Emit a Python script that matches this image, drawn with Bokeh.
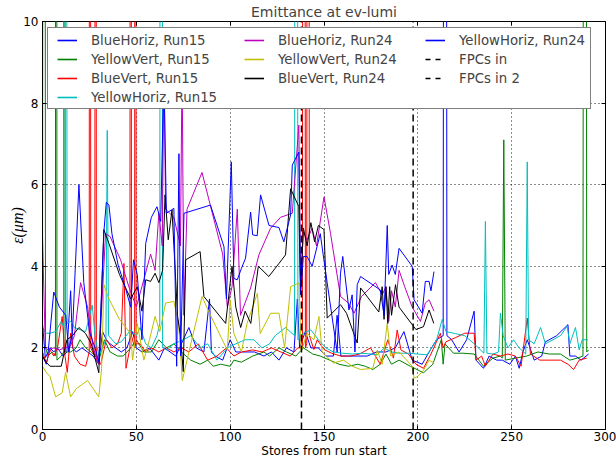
from bokeh.plotting import figure
from bokeh.models import Range1d, FixedTicker, LinearAxis, Legend, LegendItem
from bokeh.embed import file_html
from bokeh.resources import INLINE

S = 60.0  # off-scale spike value (clipped at top of axis)
NAN = float("nan")

x_ticks = [0, 50, 100, 150, 200, 250, 300]
y_ticks = [0, 2, 4, 6, 8, 10]
fpc_x = [138.0, 197.5]

# BlueHoriz, Run15
b15_x = [0, 2, 4, 6, 8, 11, 13, 15, 16, 18, 21, 24, 27, 30, 32, 34, 36, 39, 42, 45,
         48, 50, 53, 57, 62, 65, 68, 71, 75, 78, 82, 86, 89, 90, 92, 96, 100, 103, 108, 113,
         118, 122, 126, 130, 134, 135.8, 137, 140, 143, 147, 151, 155, 157, 159, 163, 168, 173, 178, 183, 188,
         192.6, 197, 202.3, 206, 210, 213.5, 214.5, 215.5, 218, 222, 226, 230, 231, 235, 238, 242, 245, 249, 252, 254,
         256, 258.3, 262, 266, 268, 274, 280, 281, 284, 287, 291]
b15_y = [1.8, 1.6, 2.0, 1.9, 2.0, 1.8, 1.9, 3.4, 2.0, 1.9, 2.0, 1.9, 1.8, 1.6, 2.4, 2.2, 2.1, 2.0, 1.9, 2.0,
         2.4, 2.0, 1.9, 2.0, 1.7, 2.0, 1.9, 1.8, 2.2, 2.5, 2.0, 1.9, 3.2, 1.9, 1.8, 1.7, 2.2, 1.9, 1.9, 1.9,
         1.8, 1.9, 1.7, 2.0, 1.9, 3.2, 2.0, 2.4, 2.0, 2.0, 1.8, 1.8, 2.8, 1.8, 1.8, 1.8, 1.8, 1.9, 1.9, 2.0,
         2.4, 1.7, 1.6, 1.9, 2.2, 2.3, S, 2.3, 2.2, 1.9, 2.2, 2.9, 1.7, 1.5, 1.8, 1.7, 1.7, 1.6, 1.8, 1.5,
         1.9, 2.2, 1.7, 1.8, 2.15, 2.3, 2.57, 1.8, 1.8, 1.7, 1.85]

# YellowVert, Run15
g15_x = [0, 0.8, 1.6, 3, 5, 6.9, 7.3, 7.7, 10, 11.3, 11.7, 12.1, 15, 18, 20, 23, 26, 30, 33, 36,
         40, 43, 47, 50, 54, 58, 62, 66, 70, 74, 79, 84, 88, 91, 95, 100, 102, 106, 112, 118,
         121, 126, 130, 135, 139, 144, 148, 153, 158, 163, 168, 172, 176, 180, 183, 186, 190, 196, 203, 208,
         212.5, 213.5, 214.5, 219, 224, 230, 235, 240, 244, 245, 245.8, 246.6, 252, 258, 264, 270, 276, 281,
         285, 288, 289, 290, 291]
g15_y = [2.0, S, 2.0, 1.8, 1.9, 1.8, S, 1.7, 1.8, 1.9, S, 1.9, 1.9, 2.0, 2.2, 2.0, 1.9, 1.7, 2.2, 1.9,
         1.8, 1.8, 2.0, 2.2, 1.9, 1.9, 2.2, 2.0, 2.1, 1.9, 1.7, 1.6, 1.7, 1.55, 1.6, 1.55, 1.7, 1.65, 1.8, 1.9,
         1.8, 2.0, 1.9, 1.8, 2.0, 1.85, 1.8, 1.7, 1.6, 1.55, 1.6, 1.55, 1.47, 1.6, 1.85, 1.6, 1.7, 1.55, 1.39, 1.6,
         2.2, 1.6, 2.1, 1.87, 1.87, 1.85, 1.55, 1.75, 1.8, 1.75, 7.1, 1.7, 1.75, 1.8, 1.9, 1.85, 1.85, 1.7,
         1.75, 1.8, S, 1.9, 1.95]

# BlueVert, Run15
r15_x = [0, 2, 4, 6, 8, 10.5, 12, 13.2, 15, 17, 20, 23, 24.9, 25.3, 25.7, 27.9, 28.3, 28.7, 31, 34,
         37, 40, 42, 43.4, 44.5, 46.6, 47, 47.4, 49.1, 49.5, 49.9, 52, 55, 58, 62, 66, 70, 74, 78, 83,
         88, 93, 98, 102, 106, 112, 117, 122, 127, 132, 136, 138.5, 139.3, 140.1, 140.8, 141.5, 142.2, 144.6, 146.4, 150,
         154, 159, 164, 169, 174.8, 180, 184, 187, 189, 191, 195, 199, 203, 207, 212, 213.5, 215, 220, 225, 230,
         231, 234, 236, 240, 244, 248, 252, 255, 258.3, 260, 265, 270, 276, 280, 283, 286, 290]
r15_y = [1.9, 1.63, 1.95, 1.8, 2.0, 2.77, 1.8, 1.4, 2.36, 1.8, 1.6, 1.55, 1.9, S, 2.0, 1.8, S, 1.7, 1.6, 2.2,
         2.0, 2.1, 2.36, 4.07, 1.5, 2.0, S, 2.3, 2.0, S, 2.1, 2.1, 1.9, 2.0, 1.9, 2.0, 1.9, 2.0, 1.9, 2.1,
         1.7, 1.8, 2.0, 1.8, 1.9, 1.95, 1.9, 2.0, 1.9, 1.8, 2.0, 2.0, S, 2.0, 2.1, S, 2.3, 1.96, 2.2, 1.96,
         1.87, 1.8, 1.8, 1.85, 2.0, 1.6, 2.2, 1.75, 2.44, 1.95, 1.85, 1.6, 1.5, 1.85, 2.36, 2.0, 2.15, 2.25, 2.36, 2.36,
         1.7, 1.8, 1.55, 1.85, 1.8, 1.85, 1.8, 1.55, 2.73, 1.85, 1.7, 1.7, 1.7, 1.6, 1.47, 1.7, 1.75]

# YellowHoriz, Run15
c15_x = [0, 1.7, 4, 7, 10, 11.3, 12.2, 13.1, 15, 17, 20.3, 23, 26.5, 28, 30, 33.8, 34.5, 35.2, 39, 42,
         47, 50, 52, 55, 58, 61, 62.5, 63.2, 64, 66, 70, 75, 79, 84, 88, 93, 98.5, 103, 108, 112.6,
         117, 121, 124, 129.5, 134.3, 135.2, 136.1, 139, 143, 147, 151, 155, 160, 165, 170, 175, 178.4, 182, 186, 190,
         195, 200, 205, 210, 213, 215, 220, 225, 230, 235.2, 236, 236.8, 240, 243, 244, 245.5, 248, 251, 254, 257.5,
         258.3, 259, 262, 265.4, 268, 272, 276, 279.6, 281, 284, 286, 287.6, 290.6]
c15_y = [2.5, 2.36, 2.36, 2.4, 2.65, 2.5, S, 2.6, 2.65, 2.5, 2.44, 2.4, 3.05, 2.3, 1.8, 2.2, 7.33, 2.3, 2.1, 2.15,
         2.44, 2.3, 2.5, 2.1, 2.0, 2.3, 2.6, S, 2.0, 1.95, 2.1, 2.2, 2.3, 2.0, 2.1, 1.7, 2.0, 2.1, 2.2, 2.2,
         2.0, 2.1, 2.3, 2.5, 2.3, S, 2.2, 2.36, 2.44, 2.2, 2.0, 1.9, 1.87, 1.85, 1.87, 1.85, 1.83, 2.0, 1.9, 1.87,
         1.87, 1.85, 1.83, 2.2, 2.7, 2.4, 2.35, 2.3, 2.1, 1.87, 5.1, 1.87, 1.85, 1.9, 2.85, 2.3, 2.0, 2.2, 2.0, 1.85,
         6.56, 2.2, 2.1, 2.5, 2.1, 2.2, 2.3, 2.53, 2.1, 2.5, 1.95, 2.2, 2.2]

# BlueHoriz, Run24
m24_x = [0, 1.5, 3, 6, 9, 12, 15, 17, 20.3, 24, 27, 30, 33.6, 36, 41.6, 46, 50, 54, 57.6, 60,
         62, 63.8, 64.7, 65.6, 70, 73.5, 74.4, 75.3, 77, 85, 96, 98.5, 101, 103.8, 105.5, 110.9, 115.3, 121.5, 126.8, 133.1,
         136.6, 137.5, 139, 141, 143.7, 146, 150, 153.5, 158.8, 163, 166, 170, 177.4, 181, 183, 184.5, 186, 188, 190, 193,
         197, 201.4, 204, 206, 208.6]
m24_y = [4.73, 2.0, 1.95, 2.0, 1.95, 2.0, 2.05, 2.3, 3.6, 3.0, 2.0, 1.6, 4.8, 4.73, 4.16, 3.5, 3.0, 3.67, 4.3, 3.9,
         5.3, 4.5, 9.0, 5.4, 5.2, 4.5, 9.0, 2.8, 5.4, 6.3, 4.3, 3.0, 3.5, 5.4, 2.8, 3.47, 4.28, 4.93, 5.2, 5.3,
         7.46, 3.5, 4.84, 4.65, 4.93, 4.5, 5.7, 4.8, 3.26, 3.1, 2.85, 3.26, 3.6, 3.3, 3.5, 2.65, 3.4, 3.0, 3.9, 3.5,
         3.0, 2.65, 3.1, 3.18, 2.9]

# YellowVert, Run24
y24_x = [0, 2, 4, 7, 10.5, 12.3, 15, 18, 21, 24, 27, 30, 31.5, 32.7, 35.4, 41, 47, 48, 50.5, 54,
         57, 60, 62.5, 65.6, 70, 72.5, 74.5, 77, 85, 89.5, 95.8, 98.5, 100, 102, 106, 109, 114.5, 116, 121.6, 126,
         129, 132.2, 136.7, 137.8, 141, 144.6, 147.3, 149, 155, 160.5, 165, 169.5, 176, 178.4, 181, 183.7, 185.5, 190, 197, 198,
         200, 203, 206, 208.6]
y24_y = [1.55, 1.4, 1.3, 0.8, 0.9, 1.4, 0.8, 1.0, 1.1, 1.2, 1.0, 0.8, 1.5, 3.55, 3.2, 2.7, 2.35, 1.7, 2.6, 1.7,
         2.2, 2.77, 2.4, 3.1, 3.14, 2.6, 1.2, 1.7, 3.26, 2.8, 2.2, 1.95, 3.18, 2.35, 1.9, 2.6, 3.34, 2.35, 2.85, 2.85,
         2.0, 3.5, 3.59, 1.9, 2.36, 2.2, 2.77, 1.9, 1.63, 1.7, 1.55, 1.47, 1.5, 1.95, 1.6, 2.6, 1.8, 1.9, 1.55, 1.26,
         1.3, 1.45, 1.7, 1.63]

# BlueVert, Run24
k24_x = [0, 2, 4, 7, 10, 13, 16, 19.4, 23, 26, 30, 32.7, 35.4, 41, 47, 50.5, 53, 55, 57.6, 60,
         62, 64, 65.3, 67, 69, 72, 73.5, 75, 76.3, 84, 86, 97.6, 101, 103, 105.6, 108, 111, 115, 120.6, 126,
         129.5, 132.2, 136.6, 137.5, 139, 141, 143, 145, 147, 150, 151.7, 158.8, 162, 167.7, 169.5, 179.2, 181, 182, 183, 184,
         185, 186, 188.1, 190, 197, 199, 203, 206, 208.5]
k24_y = [1.8, 1.65, 1.55, 1.55, 1.55, 2.2, 2.3, 2.5, 2.35, 2.1, 1.39, 4.9, 4.56, 3.8, 3.2, 3.5, 2.9, 3.67, 3.63, 3.83,
         3.6, 3.9, 5.75, 4.65, 5.38, 2.77, 2.3, 1.42, 4.16, 4.36, 3.26, 2.6, 4.0, 3.0, 2.5, 2.9, 2.6, 4.0, 3.75, 4.07,
         4.28, 5.9, 5.46, 3.38, 4.94, 4.5, 5.07, 4.6, 5.0, 4.9, 2.73, 3.06, 2.85, 2.12, 3.47, 2.88, 3.5, 2.7, 3.5, 2.6,
         3.5, 2.8, 3.55, 3.0, 2.57, 2.45, 2.52, 2.93, 2.6]

# YellowHoriz, Run24
b24_x = [0, 1.5, 3, 6, 9, 12.4, 14, 16, 19.4, 22, 25, 28, 30, 32.7, 34, 35.4, 37, 40.3, 44, 47,
         48.5, 50.5, 53, 55, 58, 61, 63, 64.7, 66, 70, 71.5, 72.7, 73.6, 75.4, 89.5, 96.7, 98, 100.6, 102, 103.8,
         106, 108.2, 110.9, 112, 114.4, 116.2, 120.7, 126, 128.6, 132.2, 133.1, 136.6, 137.5, 139, 141, 143.7, 148, 151.7, 157, 158.8,
         160, 163.3, 165, 166.5, 167.7, 169.5, 180, 182, 183.7, 184.5, 186.3, 188, 190, 197, 198, 202.3, 204, 206, 207, 208.6]
b24_y = [2.6, 1.76, 1.9, 3.37, 3.0, 2.8, 1.9, 2.4, 6.0, 3.6, 2.4, 2.0, 1.66, 4.84, 5.57, 5.5, 4.8, 4.03, 3.5, 3.0,
         4.16, 3.8, 2.2, 4.56, 5.2, 5.46, 5.1, 8.8, 5.3, 5.42, 1.55, 6.76, 1.8, 5.3, 5.5, 4.48, 3.2, 6.56, 3.7, 3.67,
         3.95, 4.2, 5.33, 4.77, 4.75, 5.75, 5.0, 4.95, 4.6, 5.26, 6.48, 6.8, 3.3, 4.24, 4.24, 4.0, 4.8, 3.59, 1.9, 3.83,
         4.24, 2.93, 3.3, 1.9, 3.55, 3.75, 3.42, 2.8, 5.0, 3.8, 4.03, 3.8, 4.44, 4.0, 3.18, 2.85, 3.63, 3.63, 3.4, 3.87]

series = [
    ("BlueHoriz, Run15", b15_x, b15_y, "#0000ff"),
    ("YellowVert, Run15", g15_x, g15_y, "#008000"),
    ("BlueVert, Run15", r15_x, r15_y, "#ff0000"),
    ("YellowHoriz, Run15", c15_x, c15_y, "#00bfbf"),
    ("BlueHoriz, Run24", m24_x, m24_y, "#bf00bf"),
    ("YellowVert, Run24", y24_x, y24_y, "#bfbf00"),
    ("BlueVert, Run24", k24_x, k24_y, "#000000"),
    ("YellowHoriz, Run24", b24_x, b24_y, "#0000ff"),
]
fpc_names = ["FPCs in", "FPCs in 2"]

FONT = "DejaVu Sans"

p = figure(width=616, height=460, output_backend="svg", toolbar_location=None,
           x_range=Range1d(0, 300), y_range=Range1d(0, 10),
           title="Emittance at ev-lumi",
           min_border_left=42, min_border_right=11, min_border_top=21, min_border_bottom=30)
p.background_fill_color = "white"
p.border_fill_color = "white"
p.outline_line_color = "black"
p.outline_line_width = 1
p.outline_line_alpha = 1

p.title.align = "center"
p.title.text_font = FONT
p.title.text_font_size = "14px"
p.title.text_font_style = "normal"
p.title.standoff = 3

p.xaxis.ticker = FixedTicker(ticks=x_ticks)
p.yaxis.ticker = FixedTicker(ticks=y_ticks)
for ax in (p.xaxis[0], p.yaxis[0]):
    ax.major_tick_in = 4
    ax.major_tick_out = 0
    ax.minor_tick_line_color = None
    ax.axis_line_color = "black"
    ax.major_tick_line_color = "black"
    ax.major_label_text_font = FONT
    ax.major_label_text_font_size = "12px"
    ax.major_label_text_color = "black"
    ax.axis_label_text_color = "black"
p.xaxis.axis_label = "Stores from run start"
p.xaxis.axis_label_text_font = FONT
p.xaxis.axis_label_text_font_size = "12px"
p.xaxis.axis_label_text_font_style = "normal"
p.xaxis.major_label_standoff = 2
p.xaxis.axis_label_standoff = 0
p.yaxis.axis_label = "ε(μm)"
p.yaxis.axis_label_text_font = "Liberation Serif"
p.yaxis.axis_label_text_font_size = "16px"
p.yaxis.axis_label_text_font_style = "italic"
p.yaxis.major_label_standoff = 4
p.yaxis.axis_label_standoff = -6

for loc, tk in (("above", x_ticks), ("right", y_ticks)):
    ax = LinearAxis(ticker=FixedTicker(ticks=tk), major_label_text_font_size="1px",
                    major_label_text_color=None, major_label_text_alpha=0,
                    major_tick_in=4, major_tick_out=0, minor_tick_line_color=None,
                    axis_line_color=None, major_label_standoff=0)
    p.add_layout(ax, loc)

p.grid.grid_line_color = "black"
p.grid.grid_line_dash = "1 3"
p.grid.grid_line_width = 1
p.grid.grid_line_alpha = 0.9

# legend proxies: NaN-only lines (nothing drawn in the plot area) with a slightly
# heavier stroke, as matplotlib's anti-aliased legend handles appear
legend_proxies = []
for name, xs, ys, col in series:
    p.line(xs, ys, line_color=col, line_width=1)
    proxy = p.line([NAN], [NAN], line_color=col, line_width=1.6)
    legend_proxies.append((name, proxy))

for name, xv in zip(fpc_names, fpc_x):
    p.segment(x0=[xv], y0=[0], x1=[xv], y1=[10], line_color="black",
              line_width=1.5, line_dash="7 4")
    proxy = p.line([NAN], [NAN], line_color="black", line_width=1.5, line_dash="5 5")
    legend_proxies.append((name, proxy))

dummy = p.line([NAN], [NAN], line_alpha=0)

# legend frame (background box)
bg = Legend(items=[LegendItem(label=" ", renderers=[dummy])], location=(5, 320),
            glyph_width=20, glyph_height=80, label_height=80, label_width=522, label_standoff=0,
            padding=0, margin=0, spacing=0, label_text_font=FONT, label_text_font_size="13.3px",
            border_line_color="black", border_line_width=1,
            background_fill_color="white", background_fill_alpha=1)
p.add_layout(bg)

# three legend columns, laid out as in the reference (4, 3, 3 entries)
columns = [(legend_proxies[0:4], 15, 324), (legend_proxies[4:7], 202, 343), (legend_proxies[7:10], 383, 343)]
for group, lx, ly in columns:
    leg = Legend(items=[LegendItem(label=n, renderers=[r]) for n, r in group],
                 location=(lx, ly), orientation="vertical",
                 label_text_font=FONT, label_text_font_size="13.3px",
                 glyph_width=20, glyph_height=16, label_height=16, label_standoff=14,
                 spacing=3, padding=0, margin=0,
                 border_line_color=None, background_fill_alpha=0)
    p.add_layout(leg)

open("out.html", "w").write(file_html(p, INLINE))
